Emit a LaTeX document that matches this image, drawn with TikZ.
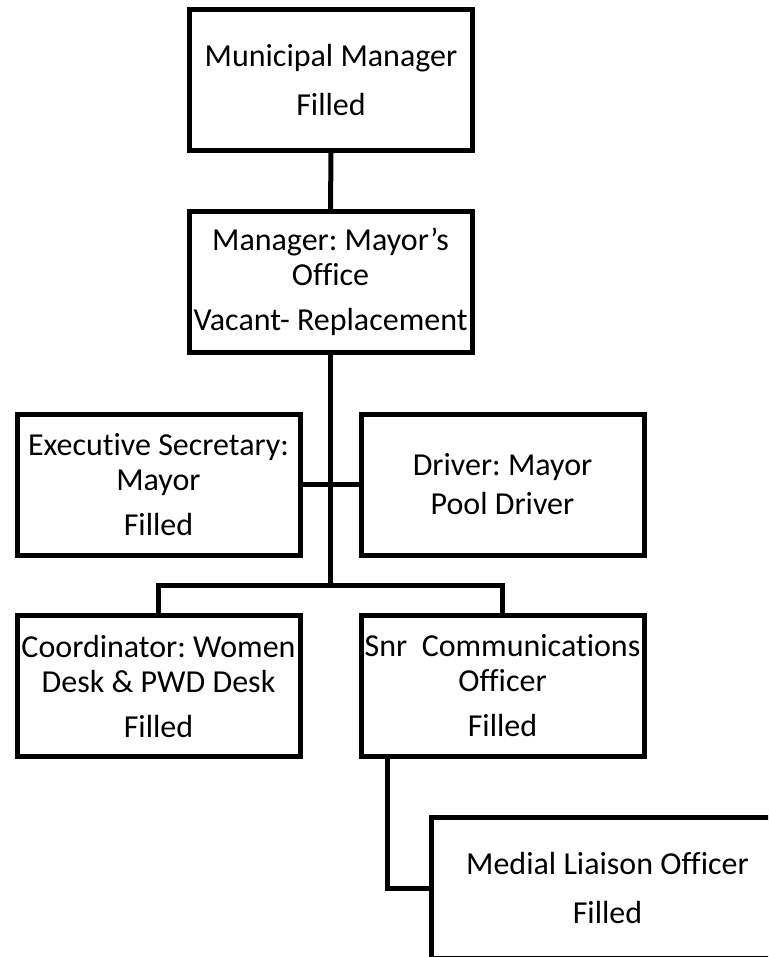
\documentclass[tikz,border=0pt]{standalone}
\usepackage{fontspec}
\setmainfont{Carlito}[Ligatures={NoCommon,NoDiscretionary,NoContextual}]
\frenchspacing

\tikzset{every picture/.style={line width=3.75pt}}
\tikzset{orgbox/.style={draw, rectangle, align=center, inner sep=0pt, minimum width=212.25pt, minimum height=105.75pt, font=\fontsize{24}{26.25}\selectfont}}

\begin{document}
\begin{tikzpicture}[x=0.75pt,y=0.75pt,yscale=-1,xscale=1]
%set diagram left start at 0, and has height of 957
\useasboundingbox (0,0) rectangle (768,957);
\clip (0,0) rectangle (768,957);

% Box Node
\node [orgbox] (mm) at (331,80) {Municipal Manager\\[10pt]Filled};
% Box Node
\node [orgbox] (mgr) at (330.5,282) {Manager: Mayor’s\\Office\\[7.5pt]Vacant- Replacement};
% Box Node
\node [orgbox] (exec) at (158.5,484.5) {Executive Secretary:\\Mayor\\[7.5pt]Filled};
% Box Node
\node [orgbox] (drv) at (502.5,484.5) {Driver: Mayor\\[3pt]Pool Driver};
% Box Node
\node [orgbox] (coord) at (158.5,686) {Coordinator: Women\\Desk \& PWD Desk\\[7.5pt]Filled};
% Box Node
\node [orgbox] (snr) at (502.5,686) {Snr\ \ Communications\\Officer\\[7.5pt]Filled};
% Box Node
\node [orgbox, minimum width=264pt, minimum height=105.5pt] (media) at (607.5,888) {Medial Liaison Officer\\[10pt]Filled};

\coordinate (bus) at (330.5,585);

%Straight Lines
\draw    (mm.south) -- (mgr.north) ;
%Straight Lines
\draw    (mgr.south) -- (bus) ;
%Straight Lines
\draw    (exec.east) -- (drv.west) ;
%Straight Lines
\draw    (coord.north) |- (bus) -| (snr.north) ;
%Straight Lines
\draw    ([xshift=21.75pt]snr.south west) |- (media.west) ;

\end{tikzpicture}
\end{document}
